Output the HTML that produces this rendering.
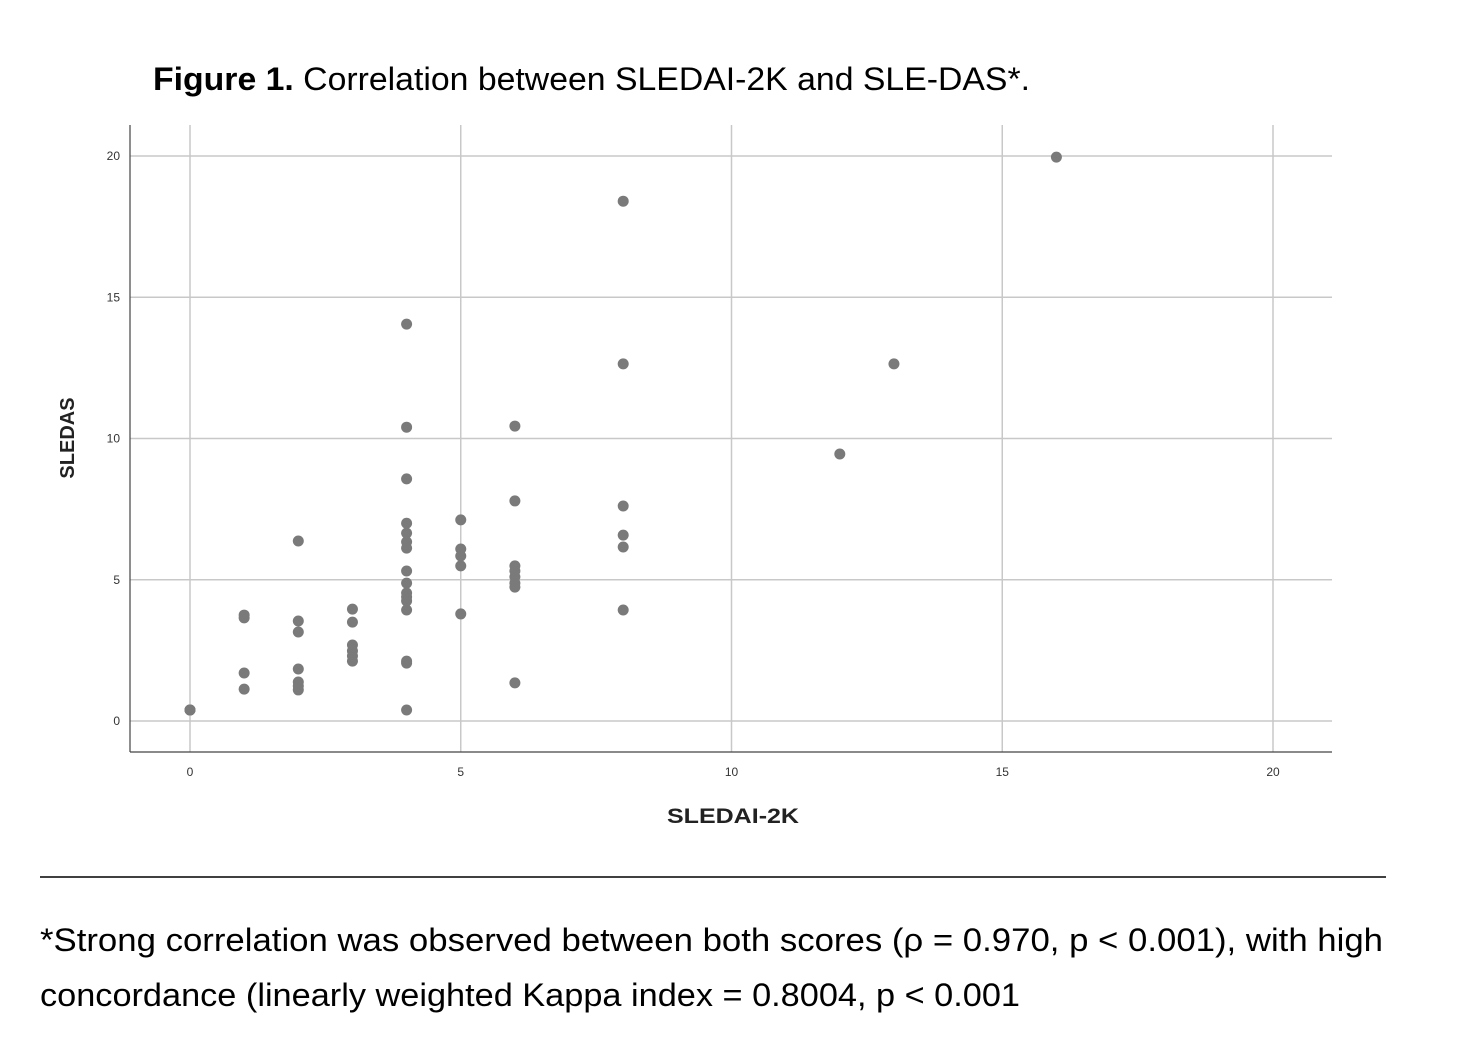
<!DOCTYPE html>
<html><head><meta charset="utf-8"><style>
body{margin:0;background:#fff;width:1464px;height:1050px;overflow:hidden;font-family:"Liberation Sans",sans-serif}
</style></head><body>
<svg width="1464" height="1050">
<text x="153" y="90" font-size="32" fill="#000" textLength="877" lengthAdjust="spacingAndGlyphs"><tspan font-weight="bold">Figure 1.</tspan> Correlation between SLEDAI-2K and SLE-DAS*.</text>
<g id="grid"></g>
<line x1="130" y1="125" x2="130" y2="752" stroke="#444" stroke-width="1.2"/>
<line x1="130" y1="752" x2="1332" y2="752" stroke="#444" stroke-width="1.2"/>
<g id="ticks" font-size="12" fill="#333"></g>
<g id="pts"></g>
<text x="667" y="823" font-size="21" font-weight="bold" fill="#222" textLength="132" lengthAdjust="spacingAndGlyphs">SLEDAI-2K</text>
<text transform="translate(74,438) rotate(-90)" font-size="20" font-weight="bold" text-anchor="middle" fill="#222">SLEDAS</text>
<line x1="40" y1="877" x2="1386" y2="877" stroke="#000" stroke-width="1.5"/>
<text x="40" y="951" font-size="32" fill="#000" textLength="1343" lengthAdjust="spacingAndGlyphs">*Strong correlation was observed between both scores (ρ = 0.970, p &lt; 0.001), with high</text>
<text x="40" y="1006" font-size="32" fill="#000" textLength="980" lengthAdjust="spacingAndGlyphs">concordance (linearly weighted Kappa index = 0.8004, p &lt; 0.001</text>
</svg>
<script>
const xTicks=[0,5,10,15,20];
const yTicks=[0,5,10,15,20];
const xs=[0,0,0,1,1,1,1,2,2,2,2,2,2,2,3,3,3,3,3,3,4,4,4,4,4,4,4,4,4,4,4,4,4,4,4,4,5,5,5,5,5,6,6,6,6,6,6,6,6,8,8,8,8,8,8,12,13,16];
const ys=[0.39,0.39,0.39,3.75,3.65,1.7,1.13,6.37,3.54,3.15,1.84,1.38,1.24,1.1,3.96,3.5,2.69,2.48,2.3,2.12,14.05,10.4,8.57,7.0,6.65,6.34,6.12,5.31,4.88,4.53,4.39,4.25,3.93,2.12,2.05,0.39,7.12,6.09,5.84,5.49,3.79,10.44,7.79,5.49,5.31,5.1,4.88,4.74,1.35,18.4,12.64,7.61,6.58,6.16,3.93,9.45,12.64,19.96];
const X=v=>190+v*54.15, Y=v=>721-v*28.25;
const NS="http://www.w3.org/2000/svg";
const g=document.getElementById('grid'),t=document.getElementById('ticks'),p=document.getElementById('pts');
function mk(tag,a,par){const e=document.createElementNS(NS,tag);for(const k in a)e.setAttribute(k,a[k]);par.appendChild(e);return e;}
xTicks.forEach(v=>{const l=mk('line',{x1:X(v),x2:X(v),y1:125,y2:752,stroke:'#c8c8c8','stroke-width':1.5},g);


const s=mk('text',{x:X(v),y:776,'text-anchor':'middle'},t);s.textContent=v;

});
yTicks.forEach(v=>{const l=mk('line',{x1:130,x2:1332,y1:Y(v),y2:Y(v),stroke:'#c8c8c8','stroke-width':1.5},g);


const s=mk('text',{x:120,y:Y(v)+4,'text-anchor':'end'},t);s.textContent=v;

});
xs.forEach((x,i)=>{const c=mk('circle',{cx:X(x),cy:Y(ys[i]),r:5.5,fill:'#7a7a7a'},p);

});
</script>
</body></html>
